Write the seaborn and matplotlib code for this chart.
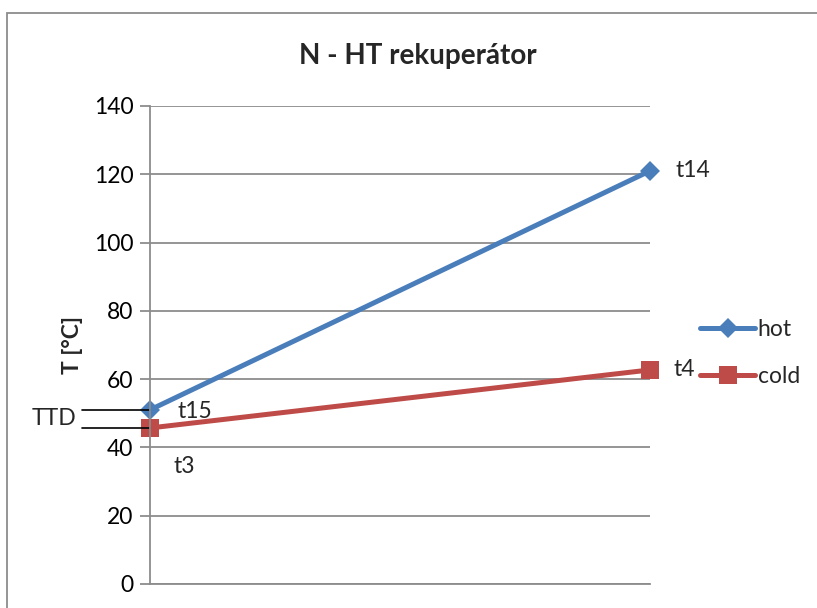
import matplotlib
matplotlib.use("Agg")
import matplotlib.pyplot as plt
import matplotlib.transforms as mtransforms
from matplotlib.patches import Rectangle
from matplotlib.lines import Line2D
import seaborn as sns
import pandas as pd

# ---- data ----
positions = [0, 1]
hot = [51.0, 121.0]
cold = [45.7, 62.7]
series_names = ["hot", "cold"]
point_labels_hot = ["t15", "t14"]
point_labels_cold = ["t3", "t4"]
y_ticks = [0, 20, 40, 60, 80, 100, 120, 140]
title = "N - HT rekuperátor"
ylabel = "T [°C]"

df = pd.DataFrame({
    "pos": positions * 2,
    "T": hot + cold,
    "series": [series_names[0]] * len(hot) + [series_names[1]] * len(cold),
})

sns.set_theme(style="white")
plt.rcParams["font.family"] = ["Lato", "DejaVu Sans"]

FS = 16.5

fig = plt.figure(figsize=(8.17, 6.08), dpi=100)
ax = fig.add_axes([150 / 817, 24 / 608, 500 / 817, 478 / 608])

blue = "#4A7EBB"
red = "#BE4B48"
sns.lineplot(
    data=df, x="pos", y="T", hue="series", style="series",
    markers={"hot": "D", "cold": "s"}, dashes=False,
    palette={"hot": blue, "cold": red}, linewidth=3.6,
    markersize=12, markeredgewidth=0, ax=ax, legend=False, clip_on=False,
)
for line, ms in zip(ax.get_lines(), [10, 12.5]):
    line.set_markersize(ms)

ax.set_xlim(0, 1)
ax.set_ylim(0, 140)
ax.set_yticks(y_ticks)
ax.set_xticks([])
ax.set_xlabel("")
ax.set_ylabel(ylabel, fontsize=FS, fontweight="bold", labelpad=8)
ax.yaxis.grid(True, color="#8C8C8C", linewidth=1.3)
ax.set_axisbelow(True)
for s in ["top", "right"]:
    ax.spines[s].set_visible(False)
for s in ["left", "bottom"]:
    ax.spines[s].set_color("#8C8C8C")
    ax.spines[s].set_linewidth(1.3)
ax.tick_params(axis="y", which="both", left=True, length=7, width=1.3,
               color="#8C8C8C", labelsize=FS, pad=5)
for lbl in ax.get_yticklabels():
    lbl.set_color("black")

ax.set_title(title, fontsize=20, fontweight="bold", pad=30,
             x=(418 - 150) / 500)

# point labels
ax.annotate(point_labels_hot[0], (positions[0], hot[0]), xytext=(20, -1),
            textcoords="offset points", fontsize=FS, va="center", ha="left")
ax.annotate(point_labels_hot[1], (positions[1], hot[1]), xytext=(18, 0),
            textcoords="offset points", fontsize=FS, va="center", ha="left",
            annotation_clip=False)
ax.annotate(point_labels_cold[0], (positions[0], cold[0]), xytext=(17, -28),
            textcoords="offset points", fontsize=FS, va="center", ha="left")
ax.annotate(point_labels_cold[1], (positions[1], cold[1]), xytext=(17, 0),
            textcoords="offset points", fontsize=FS, va="center", ha="left",
            annotation_clip=False)

# TTD marker lines
trans = mtransforms.blended_transform_factory(ax.transAxes, ax.transData)
x0 = (82 - 150) / 500
for v in [hot[0], cold[0]]:
    ax.plot([x0, 0], [v, v], color="black", linewidth=1.2, transform=trans,
            clip_on=False)
ax.text(x0 - 0.012, (hot[0] + cold[0]) / 2, "TTD", transform=trans,
        fontsize=FS, ha="right", va="center")

# legend
handles = [
    Line2D([], [], color=blue, linewidth=3.6, marker="D", markersize=10,
           markeredgewidth=0),
    Line2D([], [], color=red, linewidth=3.6, marker="s", markersize=12.5,
           markeredgewidth=0),
]
fig.legend(handles, series_names, loc="center left",
           bbox_to_anchor=(689 / 817, 1 - 353 / 608), frameon=False,
           fontsize=FS, handlelength=2.4, handletextpad=0.1,
           labelspacing=1.15, borderpad=0)

# outer chart frame
fig.patches.append(Rectangle((7 / 817, -0.05), 1.0, 1 - 13 / 608 + 0.05,
                             transform=fig.transFigure, fill=False,
                             edgecolor="#8C8C8C", linewidth=1.3))

fig.savefig("out.png", dpi=100)
